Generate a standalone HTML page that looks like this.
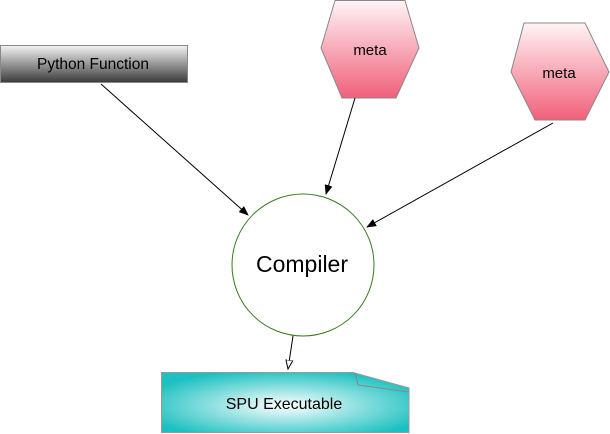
<!DOCTYPE html><html><head><style>body{margin:0;background:#fff}svg{display:block}text{font-family:"Liberation Sans",sans-serif}</style></head><body>
<svg width="610" height="434" viewBox="0 0 610 434">
<defs>
<linearGradient id="g1" x1="0" y1="0" x2="0" y2="1"><stop offset="0" stop-color="#f4f4f4"/><stop offset="1" stop-color="#3a3a3a"/></linearGradient>
<linearGradient id="p" x1="0" y1="0" x2="0" y2="1"><stop offset="0" stop-color="#fff4f6"/><stop offset="1" stop-color="#f0607a"/></linearGradient>
<radialGradient id="t" cx="0.5" cy="0.55" r="0.6"><stop offset="0" stop-color="#ffffff"/><stop offset="1" stop-color="#1cc0c0"/></radialGradient>
<marker id="a" markerWidth="10" markerHeight="8" refX="9" refY="4" orient="auto" markerUnits="userSpaceOnUse"><path d="M0,0 L10,4 L0,8 Z" fill="#000"/></marker>
<marker id="o" markerWidth="10" markerHeight="8" refX="9" refY="4" orient="auto" markerUnits="userSpaceOnUse"><path d="M0,0.5 L9,4 L0,7.5 Z" fill="#fff" stroke="#000"/></marker>
</defs>
<rect x="0.5" y="45.5" width="187" height="37" fill="url(#g1)" stroke="#888"/>
<text x="93" y="69" font-size="15.5" text-anchor="middle">Python Function</text>
<polygon points="321,48 335,0.5 405,0.5 419,48 396,98 342,98" fill="url(#p)" stroke="#888"/>
<text x="370" y="55" font-size="15" text-anchor="middle">meta</text>
<polygon points="511,72 524,23 585,23 609,72 585,120 535,120" fill="url(#p)" stroke="#888"/>
<text x="559" y="78" font-size="15" text-anchor="middle">meta</text>
<line x1="101" y1="84" x2="248" y2="215" stroke="#000" marker-end="url(#a)"/>
<line x1="355" y1="98" x2="326" y2="194" stroke="#000" marker-end="url(#a)"/>
<line x1="553" y1="123" x2="367" y2="227" stroke="#000" marker-end="url(#a)"/>
<circle cx="303" cy="265" r="71" fill="#fff" stroke="#3a7a20"/>
<text x="302" y="272" font-size="23" text-anchor="middle">Compiler</text>
<line x1="293" y1="336" x2="288" y2="369" stroke="#000" marker-end="url(#o)"/>
<path d="M161.5,372.5 L353,372.5 L409,388 L409,432.5 L161.5,432.5 Z" fill="url(#t)" stroke="#999"/>
<path d="M355,372.5 L358,385 L409,392" fill="none" stroke="#888"/>
<text x="284" y="409" font-size="16" text-anchor="middle">SPU Executable</text>
</svg></body></html>
